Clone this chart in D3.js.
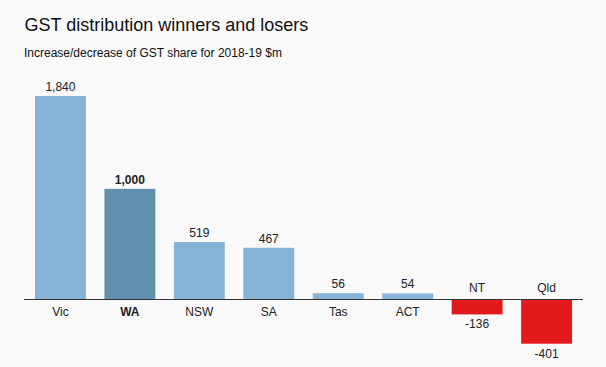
<!DOCTYPE html>
<html><head><meta charset="utf-8">
<script src="https://cdn.jsdelivr.net/npm/d3@7"></script>
<style>
body{margin:0;background:#f9f9f9;font-family:"Liberation Sans",Arial,sans-serif;}
</style></head><body>
<svg id="c" width="606" height="367"></svg>
<script>
const categories = ["Vic","WA","NSW","SA","Tas","ACT","NT","Qld"];
const values = [1840,1000,519,467,56,54,-136,-401];
const highlight = ["WA"];
const title = "GST distribution winners and losers";
const subtitle = "Increase/decrease of GST share for 2018-19 $m";

const svg = d3.select("#c");
svg.append("rect").attr("width",606).attr("height",367).attr("fill","#f9f9f9");
svg.append("text").attr("x",24.5).attr("y",31).attr("font-size",18).attr("fill","#111").text(title);
svg.append("text").attr("x",24).attr("y",57).attr("font-size",12).attr("fill","#111").text(subtitle);

const x = d3.scaleBand().domain(categories).range([24,583]).paddingInner(0.267).paddingOuter(0.158);
const y = d3.scaleLinear().domain([-401,1840]).range([343.7,96]);
const fmt = v => d3.format(",")(v).replace("\u2212","-");

const g = svg.append("g");
categories.forEach((c,i)=>{
  const v = values[i];
  const hl = highlight.includes(c);
  const col = v<0 ? "#e31a1c" : (hl ? "#6190af" : "#87b4d6");
  g.append("rect").attr("x",x(c)).attr("width",x.bandwidth())
    .attr("y",Math.min(y(v),y(0))).attr("height",Math.abs(y(v)-y(0))).attr("fill",col);
  const cx = x(c)+x.bandwidth()/2;
  g.append("text").attr("x",cx).attr("y", v>=0 ? y(v)-5 : y(v)+14)
    .attr("text-anchor","middle").attr("font-size",12).attr("fill","#222")
    .attr("font-weight",hl?"bold":"normal").text(fmt(v));
  g.append("text").attr("x",cx).attr("y", v>=0 ? y(0)+17 : y(0)-7)
    .attr("text-anchor","middle").attr("font-size",12).attr("fill","#222")
    .attr("font-weight",hl?"bold":"normal").text(c);
});
svg.append("line").attr("x1",24).attr("x2",583).attr("y1",Math.round(y(0))+0.5).attr("y2",Math.round(y(0))+0.5)
  .attr("stroke","#333").attr("stroke-width",1);
</script>
</body></html>
